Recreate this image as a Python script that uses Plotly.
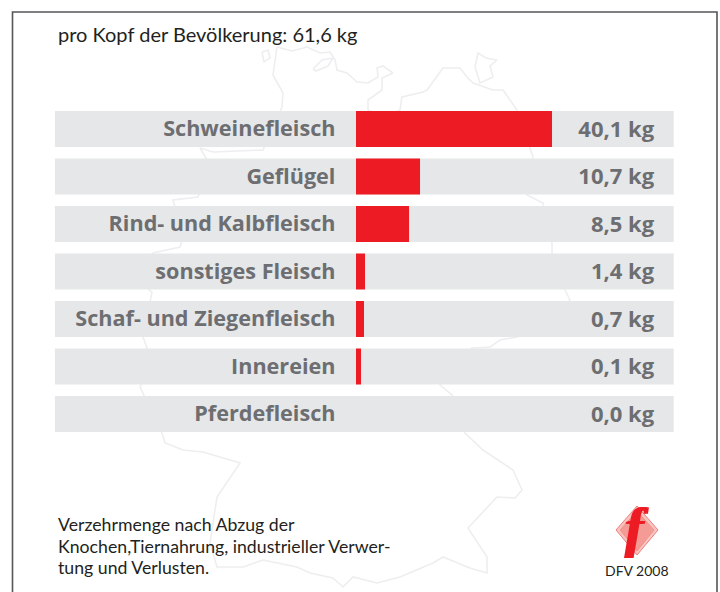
import plotly.graph_objects as go

categories = ["Schweinefleisch", "Geflügel", "Rind- und Kalbfleisch", "sonstiges Fleisch",
              "Schaf- und Ziegenfleisch", "Innereien", "Pferdefleisch"]
value_labels = ["40,1 kg", "10,7 kg", "8,5 kg", "1,4 kg", "0,7 kg", "0,1 kg", "0,0 kg"]
# lengths as drawn in the picture (the original's short bars are longer than their labels)
drawn_lengths = [40.1, 13.1, 10.85, 1.84, 1.64, 1.02, 0.0]
track_start = -61.6
track_span = 126.6

# faint map outline in picture units
map_x = [277,292,307,320,330,335,337,347,357,368,378,377,383,393,382,382,368,368,385,400,402,423,427,437,443,460,467,473,
         493,503,510,517,530,533,527,543,552,552,565,570,545,517,500,490,472,440,452,465,483,513,522,515,497,468,
         487,487,470,443,433,400,377,353,343,333,310,297,263,243,217,210,217,223,240,203,183,165,162,140,153,143,
         152,130,153,180,183,173,198,210,200,213,263,282,283,273,277]
map_y = [47,51,47,53,52,60,70,73,82,83,77,68,66,73,78,90,100,110,118,110,97,92,90,77,68,68,77,83,
         90,90,100,110,148,157,195,203,243,253,290,300,322,337,340,347,348,385,395,433,450,470,490,498,497,528,
         557,573,568,557,563,577,583,577,587,578,573,567,560,567,567,543,497,488,463,452,450,443,433,387,365,337,
         292,275,253,247,238,200,197,165,148,152,150,107,93,75,47]
rugen_x = [475,478,486,497,490,493,480,475]
rugen_y = [67,53,58,60,66,77,83,67]
island_x = [262,268,270,264,262]
island_y = [52,50,58,62,52]
bay_x = [313,322,333,328,316,313]
bay_y = [69,60,58,66,71,69]
diamond_x = [637,658,637,616,637]
diamond_y = [506,530,555,530,506]
shade_x = [637,654,637,620,637]
shade_y = [511,530,551,530,511]

note_lines = ["Verzehrmenge nach Abzug der", "Knochen,Tiernahrung, industrieller Verwer-", "tung und Verlusten."]
note_tops = [523, 545, 566]

INK = "#231f20"
GREY = "#6d6e71"
LABEL_FONT = "Open Sans"
FONT = "Lato"

fig = go.Figure()
for mx, my in ((map_x, map_y), (rugen_x, rugen_y), (island_x, island_y), (bay_x, bay_y)):
    fig.add_trace(go.Scatter(x=mx, y=my, mode="lines", line=dict(color="#eeeef0", width=1.6),
                             hoverinfo="skip", showlegend=False))
fig.add_trace(go.Scatter(x=diamond_x, y=diamond_y, mode="lines", fill="toself", fillcolor="#f9c4c0",
                         line=dict(color="#ee7f79", width=1), hoverinfo="skip", showlegend=False))
fig.add_trace(go.Scatter(x=shade_x, y=shade_y, mode="lines", fill="toself", fillcolor="#f59b96",
                         line=dict(color="#f08a84", width=0.8), hoverinfo="skip", showlegend=False))
fig.add_trace(go.Bar(y=categories, x=[track_span] * 7, base=track_start, orientation="h", width=0.757,
                     marker=dict(color="#e6e7e8", line=dict(width=0)), xaxis="x2", yaxis="y2",
                     hoverinfo="skip", showlegend=False))
fig.add_trace(go.Bar(y=categories, x=drawn_lengths, base=0, orientation="h", width=0.757,
                     marker=dict(color="#ed1c24", line=dict(width=0)), xaxis="x2", yaxis="y2",
                     hoverinfo="skip", showlegend=False))
fig.add_trace(go.Scatter(y=categories, x=[-4.2] * 7, text=categories, mode="text", textposition="middle left",
                         textfont=dict(family=LABEL_FONT, size=21.6, color=GREY, weight=700),
                         xaxis="x2", yaxis="y3", hoverinfo="skip", showlegend=False))
fig.add_trace(go.Scatter(y=categories, x=[61] * 7, text=value_labels, mode="text", textposition="middle left",
                         textfont=dict(family=LABEL_FONT, size=22, color=GREY, weight=700),
                         xaxis="x2", yaxis="y3", hoverinfo="skip", showlegend=False))

annos = [dict(x=56, y=20, text="pro Kopf der Bevölkerung: 61,6 kg", xanchor="left", yanchor="top",
              font=dict(family=FONT, size=20, color=INK)),
         dict(x=637, y=560, text="DFV 2008", xanchor="center", yanchor="top",
              font=dict(family=FONT, size=14, color=INK)),
         dict(x=636, y=528, text="<b><i>f</i></b>", xanchor="center", yanchor="middle",
              font=dict(family="Liberation Serif", size=54, color="#ed1c24",
                        shadow="1.5px 0 0 #ed1c24, -1px 0 0 #ed1c24"))]
for line, top in zip(note_lines, note_tops):
    annos.append(dict(x=56, y=top - 11, text=line, xanchor="left", yanchor="top",
                      font=dict(family=FONT, size=17.7, color=INK)))
for a in annos:
    a.update(xref="x", yref="y", showarrow=False)

px_per_unit = 4.888
pitch = 47.5
first_center = 129
label_center = 131
fig.update_layout(
    width=720, height=592, margin=dict(l=0, r=0, t=0, b=0), autosize=False,
    paper_bgcolor="white", plot_bgcolor="white", showlegend=False, barmode="overlay",
    xaxis=dict(range=[0, 720], visible=False, domain=[0, 1]),
    yaxis=dict(range=[592, 0], visible=False, domain=[0, 1]),
    xaxis2=dict(range=[-356 / px_per_unit, 364 / px_per_unit], visible=False, overlaying="x", domain=[0, 1]),
    yaxis2=dict(type="category", categoryorder="array", categoryarray=categories,
                range=[(592 - first_center) / pitch, -first_center / pitch], visible=False, overlaying="y"),
    yaxis3=dict(type="category", categoryorder="array", categoryarray=categories,
                range=[(592 - label_center) / pitch, -label_center / pitch], visible=False, overlaying="y"),
    annotations=annos,
    shapes=[dict(type="rect", xref="x", yref="y", x0=12.5, x1=717, y0=12, y1=610,
                 line=dict(color="#555658", width=1.6), fillcolor="rgba(0,0,0,0)", layer="above")],
)
fig.write_html("out.html", config=dict(displayModeBar=False),
               post_script="document.body.style.margin='0';document.body.style.overflow='hidden';")
